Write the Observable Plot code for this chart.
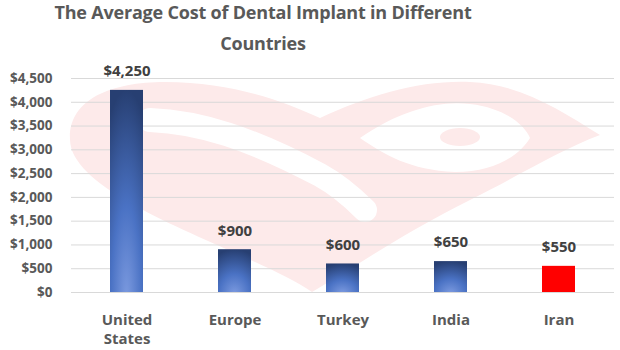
<!DOCTYPE html>
<html>
<head>
<meta charset="utf-8">
<script src="https://cdn.jsdelivr.net/npm/d3@7"></script>
<script src="https://cdn.jsdelivr.net/npm/@observablehq/plot@0.6"></script>
<style>
  html, body { margin: 0; padding: 0; background: #fff; }
  #wrap { position: relative; width: 620px; height: 350px; overflow: hidden; }
  #wm { position: absolute; left: 0; top: 0; z-index: 0; }
  #chart { position: absolute; left: 0; top: 0; z-index: 1; }
  #title { position: absolute; left: 0; top: -3px; width: 526px; text-align: center; z-index: 2;
    font-family: "Open Sans", sans-serif; font-weight: 700; font-size: 18px; line-height: 31px;
    color: #595959; letter-spacing: -0.2px; }
</style>
</head>
<body>
<div id="wrap">
  <svg id="wm" width="620" height="350">
    <path d="M312,292 C250,250 72,200 70,140 C68,100 110,82 165,82 C230,82 280,100 320,118 C370,95 420,80 470,82 C520,84 560,110 600,135 C560,150 520,175 470,200 C400,235 350,270 312,292 Z"
      fill="#fdeaea"/>
    <path d="M150,120 C200,122 250,138 320,175 C340,186 355,200 365,210" fill="none" stroke="#fff" stroke-width="24" stroke-linecap="round"/>
    <path d="M360,138 C400,110 440,100 470,104 C505,108 525,125 530,138 C520,155 495,172 455,172 C410,170 385,155 360,138 Z" fill="#fff"/>
    <ellipse cx="460" cy="137" rx="20" ry="9" fill="#fdeaea"/>
  </svg>
  <div id="chart"></div>
  <div id="title">The Average Cost of Dental Implant in Different<br>Countries</div>
</div>
<script>
const countries = ["United States", "Europe", "Turkey", "India", "Iran"];
const costs = [4250, 900, 600, 650, 550];
const yTicks = [0, 500, 1000, 1500, 2000, 2500, 3000, 3500, 4000, 4500];
const barFills = ["url(#blueGrad)", "url(#blueGrad)", "url(#blueGrad)", "url(#blueGrad)", "#ff0000"];

const data = countries.map((c, i) => ({country: c, cost: costs[i], fill: barFills[i]}));
const fmt = v => "$" + d3.format(",")(v);

const chart = Plot.plot({
  width: 620,
  height: 350,
  marginTop: 78,
  marginBottom: 58,
  marginLeft: 71,
  marginRight: 6,
  style: {fontFamily: "'Open Sans', sans-serif", background: "transparent"},
  x: {domain: countries, paddingInner: 0.69, paddingOuter: 0.345, label: null},
  y: {domain: [0, 4500], ticks: yTicks, label: null},
  marks: [
    Plot.ruleY(yTicks, {stroke: "#d9d9d9", strokeWidth: 1}),
    Plot.barY(data, {x: "country", y: "cost", fill: "fill"}),
    Plot.text(data, {x: "country", y: "cost", text: d => fmt(d.cost), dy: -19,
      fontSize: 15, fontWeight: 700, fill: "#404040"}),
    Plot.axisY({ticks: yTicks, tickFormat: fmt, tickSize: 0, tickPadding: 19, fontSize: 13.5,
      fontWeight: 700, fill: "#595959", label: null}),
    Plot.axisX({tickSize: 0, tickPadding: 19, fontSize: 15, fontWeight: 700, fill: "#595959",
      label: null, lineWidth: 6, lineHeight: 1.25, textOverflow: null})
  ]
});

// gradient definition for the blue bars
const svg = d3.select(chart);
const defs = svg.insert("defs", ":first-child");
const g = defs.append("radialGradient").attr("id", "blueGrad")
  .attr("cx", "0.5").attr("cy", "1.05").attr("r", "1.05").attr("fx", "0.5").attr("fy", "1.05");
g.append("stop").attr("offset", "0").attr("stop-color", "#7d9be0");
g.append("stop").attr("offset", "0.45").attr("stop-color", "#4a72c4");
g.append("stop").attr("offset", "1").attr("stop-color", "#273f72");

document.getElementById("chart").appendChild(chart);
</script>
</body>
</html>
